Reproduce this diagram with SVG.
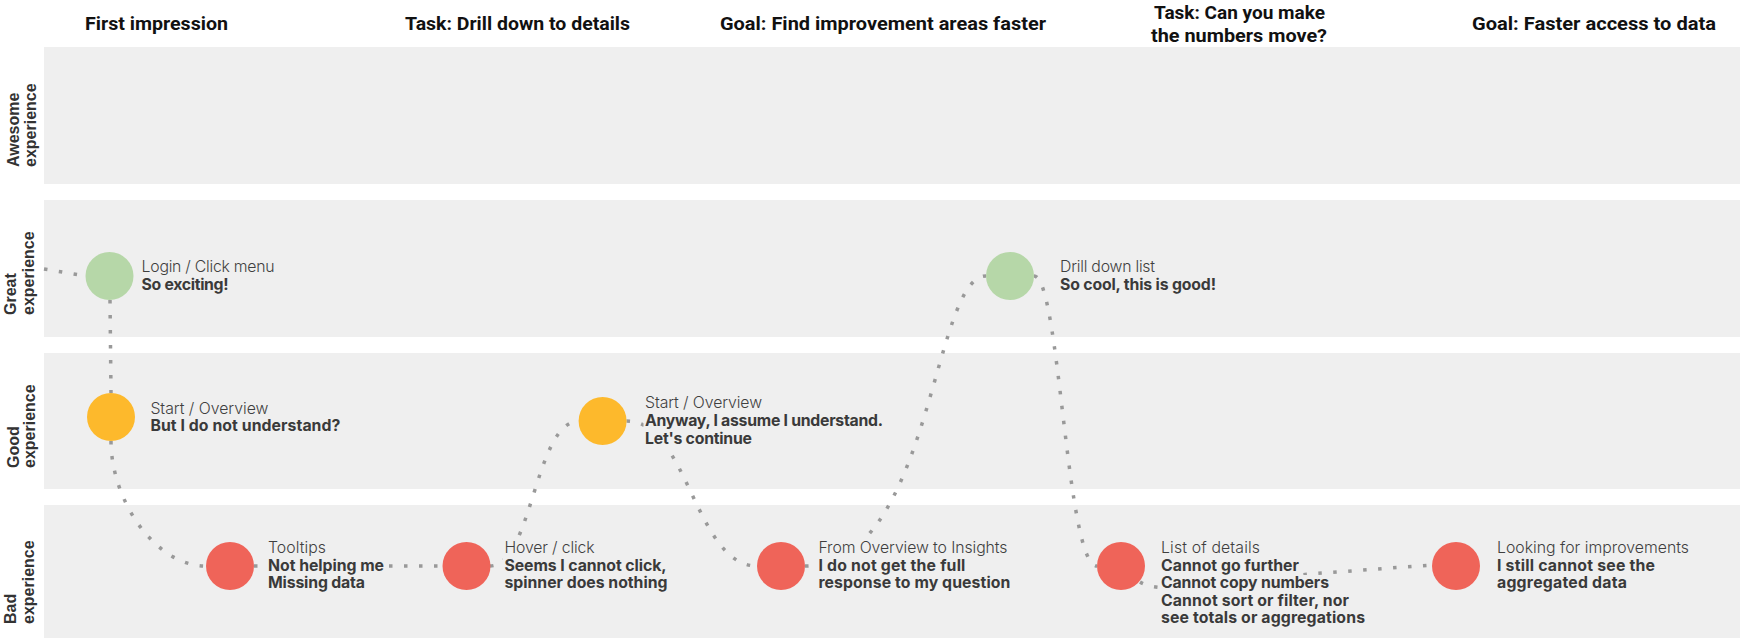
<svg xmlns="http://www.w3.org/2000/svg" width="1743" height="638" viewBox="0 0 1743 638">
<style>
.band{fill:#efefef}
.hdr{font-family:Roboto,"Liberation Sans",sans-serif;font-weight:700;font-size:19px;fill:#111}
.row{font-family:"Liberation Sans",Arial,sans-serif;font-weight:700;font-size:16px;fill:#333}
.lt{font-family:Inter,"Liberation Sans",sans-serif;font-weight:300;font-size:15.8px;fill:#3f3f3f}
.bd{font-family:Inter,"Liberation Sans",sans-serif;font-weight:700;font-size:15.8px;fill:#3a3a3a}
.bg{fill:#efefef}
.conn{fill:none;stroke:#999;stroke-width:3.5;stroke-dasharray:3.5 11.5}
.green{fill:#b6d7a8}
.orange{fill:#fdb92c}
.red{fill:#ef6459}
</style>
<rect width="1743" height="638" fill="#fff"/>
<g id="bands">
<rect class="band" x="44" y="47" width="1696" height="137"/>
<rect class="band" x="44" y="200" width="1696" height="137"/>
<rect class="band" x="44" y="353" width="1696" height="136"/>
<rect class="band" x="44" y="505" width="1696" height="140"/>
</g>
<g id="row-labels">
<text class="row" transform="translate(0,167) rotate(-90)"><tspan x="0" y="19">Awesome</tspan><tspan x="0" y="36">experience</tspan></text>
<text class="row" transform="translate(0,315) rotate(-90)"><tspan x="0" y="16">Great</tspan><tspan x="0" y="34">experience</tspan></text>
<text class="row" transform="translate(0,468) rotate(-90)"><tspan x="0" y="18.5">Good</tspan><tspan x="0" y="35">experience</tspan></text>
<text class="row" transform="translate(0,624) rotate(-90)"><tspan x="0" y="16">Bad</tspan><tspan x="0" y="33.5">experience</tspan></text>
</g>
<g id="headers">
<text class="hdr" x="85" y="30" textLength="143" lengthAdjust="spacingAndGlyphs">First impression</text>
<text class="hdr" x="405" y="30" textLength="225" lengthAdjust="spacingAndGlyphs">Task: Drill down to details</text>
<text class="hdr" x="720" y="30" textLength="326" lengthAdjust="spacingAndGlyphs">Goal: Find improvement areas faster</text>
<text class="hdr" x="1154" y="18.5" textLength="171" lengthAdjust="spacingAndGlyphs">Task: Can you make</text>
<text class="hdr" x="1151" y="41.5" textLength="176" lengthAdjust="spacingAndGlyphs">the numbers move?</text>
<text class="hdr" x="1472" y="30" textLength="244" lengthAdjust="spacingAndGlyphs">Goal: Faster access to data</text>
</g>
<g id="connectors">
<path class="conn" d="M44,269 L86,276"/>
<path class="conn" d="M110,300 L111,393"/>
<path class="conn" d="M111,441 C111,500 155,566 206,566"/>
<path class="conn" d="M254,566 L443,566"/>
<path class="conn" d="M490,566 C532,566 535,421 579,421"/>
<path class="conn" d="M626.5,421 C688,421 695,566 757,566"/>
<path class="conn" d="M805,566 C932,566 932,276 986,276"/>
<path class="conn" d="M1034,276 C1060,276 1066,566 1097,566"/>
<path class="conn" d="M1140,582 C1165,598 1250,578 1323,573 L1432,565"/>
</g>
<g id="node-login">
<circle class="green" cx="109.5" cy="276" r="24"/>
<rect class="bg" x="140" y="258.5" width="136" height="18"/>
<rect class="bg" x="140" y="276.5" width="90" height="18"/>
<text class="lt" x="141.6" y="272" textLength="133">Login / Click menu</text>
<text class="bd" x="141.6" y="290" textLength="87">So exciting!</text>
</g>
<g id="node-start1">
<circle class="orange" cx="111" cy="417" r="24"/>
<rect class="bg" x="149" y="400" width="121" height="18"/>
<rect class="bg" x="149" y="418" width="193" height="18"/>
<text class="lt" x="150.4" y="413.5" textLength="118">Start / Overview</text>
<text class="bd" x="150.4" y="431" textLength="190">But I do not understand?</text>
</g>
<g id="node-tooltips">
<circle class="red" cx="230" cy="566" r="24"/>
<rect class="bg" x="266.5" y="540" width="61" height="18"/>
<rect class="bg" x="266.5" y="557.5" width="120" height="18"/>
<rect class="bg" x="266.5" y="575" width="100" height="18"/>
<text class="lt" x="268" y="553.3" textLength="58">Tooltips</text>
<text class="bd" x="268" y="570.8" textLength="116">Not helping me</text>
<text class="bd" x="268" y="588.3" textLength="97">Missing data</text>
</g>
<g id="node-hover">
<circle class="red" cx="466.5" cy="566" r="24"/>
<rect class="bg" x="503" y="540" width="93" height="18"/>
<rect class="bg" x="503" y="557.5" width="165" height="18"/>
<rect class="bg" x="503" y="575" width="166" height="18"/>
<text class="lt" x="504.5" y="553.3" textLength="90">Hover / click</text>
<text class="bd" x="504.5" y="570.8" textLength="162">Seems I cannot click,</text>
<text class="bd" x="504.5" y="588.3" textLength="163">spinner does nothing</text>
</g>
<g id="node-start2">
<circle class="orange" cx="602.6" cy="421" r="24"/>
<rect class="bg" x="643.5" y="395" width="120" height="18"/>
<rect class="bg" x="643.5" y="413" width="241" height="18"/>
<rect class="bg" x="643.5" y="431" width="110" height="18"/>
<text class="lt" x="645" y="408" textLength="117">Start / Overview</text>
<text class="bd" x="645" y="426" textLength="238">Anyway, I assume I understand.</text>
<text class="bd" x="645" y="444" textLength="107">Let's continue</text>
</g>
<g id="node-drill">
<circle class="green" cx="1010" cy="276" r="24"/>
<rect class="bg" x="1058.5" y="258.5" width="98" height="18"/>
<rect class="bg" x="1058.5" y="276.5" width="159" height="18"/>
<text class="lt" x="1060" y="272" textLength="95">Drill down list</text>
<text class="bd" x="1060" y="290" textLength="156">So cool, this is good!</text>
</g>
<g id="node-insights">
<circle class="red" cx="781" cy="566" r="24"/>
<rect class="bg" x="817" y="540" width="192" height="18"/>
<rect class="bg" x="817" y="557.5" width="150" height="18"/>
<rect class="bg" x="817" y="575" width="195" height="18"/>
<text class="lt" x="818.4" y="553.3" textLength="189">From Overview to Insights</text>
<text class="bd" x="818.4" y="570.8" textLength="147">I do not get the full</text>
<text class="bd" x="818.4" y="588.3" textLength="192">response to my question</text>
</g>
<g id="node-details">
<circle class="red" cx="1121" cy="566" r="24"/>
<rect class="bg" x="1159.5" y="540" width="102" height="18"/>
<rect class="bg" x="1159.5" y="557.5" width="141" height="18"/>
<rect class="bg" x="1159.5" y="575" width="171" height="18"/>
<rect class="bg" x="1159.5" y="592.5" width="191" height="18"/>
<rect class="bg" x="1159.5" y="610" width="207" height="18"/>
<text class="lt" x="1161" y="553" textLength="99">List of details</text>
<text class="bd" x="1161" y="570.8" textLength="138">Cannot go further</text>
<text class="bd" x="1161" y="588.3" textLength="168">Cannot copy numbers</text>
<text class="bd" x="1161" y="605.8" textLength="188">Cannot sort or filter, nor</text>
<text class="bd" x="1161" y="623.3" textLength="204">see totals or aggregations</text>
</g>
<g id="node-improvements">
<circle class="red" cx="1456" cy="566" r="24"/>
<rect class="bg" x="1495.5" y="540" width="195" height="18"/>
<rect class="bg" x="1495.5" y="557.5" width="161" height="18"/>
<rect class="bg" x="1495.5" y="575" width="133" height="18"/>
<text class="lt" x="1497" y="553.3" textLength="192">Looking for improvements</text>
<text class="bd" x="1497" y="570.8" textLength="158">I still cannot see the</text>
<text class="bd" x="1497" y="588.3" textLength="130">aggregated data</text>
</g>
</svg>
